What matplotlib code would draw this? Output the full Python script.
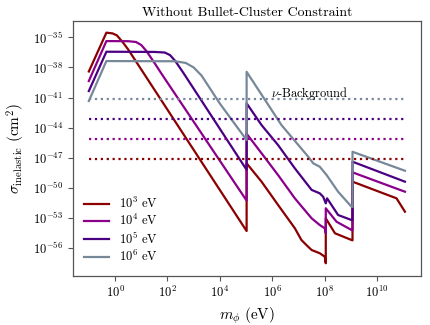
import numpy as np
import matplotlib
matplotlib.use("Agg")
import matplotlib.pyplot as plt

plt.rcParams['font.family'] = ['cmr10', 'DejaVu Serif']
plt.rcParams['mathtext.fontset'] = 'cm'
plt.rcParams['axes.formatter.use_mathtext'] = True

# ---- data (log10 values) ----
labels = [r"$10^3$ eV", r"$10^4$ eV", r"$10^5$ eV", r"$10^6$ eV"]
colors = ["#8b0000", "#8b008b", "#4b0082", "#778899"]

red_logm = [-1, -0.33, -0.1, 0.07, 0.3, 0.5, 0.8, 5.02,
            5.02, 5.59, 6.22, 6.86, 7.11, 7.3, 7.5, 7.81, 8.0, 8.04,
            8.04, 8.39, 9.02, 9.06,
            9.06, 10.74, 11.06]
red_logs = [-38.4, -34.53, -34.6, -34.8, -35.5, -36.2, -37.4, -54.3,
            -47.55, -49.38, -51.7, -54.02, -55.19, -55.69, -56.19, -56.51, -56.85, -57.51,
            -53.03, -54.52, -55.19, -55.22,
            -49.38, -51.04, -52.37]

purple_logm = [-1, -0.33, 0.5, 0.8, 1.0, 1.2, 1.5, 1.8, 5.02,
               5.02, 5.59, 6.22, 6.86, 7.5, 7.81, 8.0, 8.04,
               8.04, 8.45, 9.02, 9.06,
               9.06, 11.06]
purple_logs = [-39.35, -35.37, -35.38, -35.46, -35.76, -36.37, -37.53, -38.73, -51.27,
               -44.6, -46.55, -48.72, -51.04, -53.03, -53.7, -54.02, -54.52,
               -52.03, -53.37, -54.19, -54.22,
               -48.45, -50.38]

indigo_logm = [-1, -0.33, 1.5, 1.9, 2.1, 2.3, 2.6, 3.0, 5.02,
               5.02, 5.59, 6.22, 6.86, 7.5, 7.81, 7.94, 8.04, 8.09, 8.51, 9.02, 9.06,
               9.06, 11.06]
indigo_logs = [-40.35, -36.43, -36.45, -36.51, -36.77, -37.36, -38.51, -40.11, -48.2,
               -41.57, -43.74, -45.73, -48.05, -50.2, -50.54, -50.88, -51.54, -51.04, -52.7, -53.2, -53.22,
               -47.39, -49.38]

gray_logm = [-1, -0.33, 2.3, 2.7, 3.0, 3.3, 3.6, 4.0, 5.02,
             5.02, 6.35, 7.37, 7.56, 7.81, 8.07, 8.51, 9.02, 9.06,
             9.06, 11.06]
gray_logs = [-41.34, -37.36, -37.38, -37.55, -38.0, -38.8, -40.0, -41.6, -45.23,
             -38.43, -43.74, -46.89, -47.55, -47.89, -48.71, -50.38, -51.87, -51.9,
             -46.4, -48.29]

bg_levels = [-47.15, -45.15, -43.15, -41.15]   # dotted neutrino-background lines
bg_range = [-1, 11.06]

xticks_exp = [0, 2, 4, 6, 8, 10]
yticks_exp = [-56, -53, -50, -47, -44, -41, -38, -35]

# ---- figure ----
fig = plt.figure(figsize=(4.31, 3.25), dpi=100)
ax = fig.add_axes([0.169, 0.152, 0.807, 0.783])

series = [(red_logm, red_logs), (purple_logm, purple_logs),
          (indigo_logm, indigo_logs), (gray_logm, gray_logs)]
for (lm, ls), c, lab in zip(series, colors, labels):
    ax.plot(10.0 ** np.array(lm), 10.0 ** np.array(ls), color=c, lw=1.6, label=lab)

for lev, c in zip(bg_levels, colors):
    ax.plot(10.0 ** np.array(bg_range), [10.0 ** lev] * 2, color=c, lw=1.6, ls=':')

ax.set_xscale('log')
ax.set_yscale('log')
ax.set_xlim(10 ** -1.61, 10 ** 11.66)
ax.set_ylim(10 ** -58.74, 10 ** -33.38)

ax.set_xticks([10.0 ** e for e in xticks_exp])
ax.set_xticklabels([r"$10^{%d}$" % e for e in xticks_exp])
ax.set_yticks([10.0 ** e for e in yticks_exp])
ax.set_yticklabels([r"$10^{%d}$" % e for e in yticks_exp])
ax.minorticks_off()
ax.tick_params(axis='both', which='major', labelsize=9, length=3.5, width=0.8,
               color='#555555', direction='out', top=False, right=False)
for sp in ax.spines.values():
    sp.set_color('#555555')
    sp.set_linewidth(0.9)

ax.set_xlabel(r"$m_\phi\ ({\rm eV})$", fontsize=11)
ax.set_ylabel(r"$\sigma_{\rm inelastic}\ ({\rm cm}^2)$", fontsize=11)
ax.set_title("Without Bullet-Cluster Constraint", fontsize=10, pad=4)

ax.text(10 ** 7.41, 10 ** -40.55, r"$\nu$-Background", fontsize=9,
        ha='center', va='center')

ax.legend(loc='lower left', frameon=False, fontsize=9, handlelength=2.0,
          labelspacing=0.2)

fig.savefig("out.png", dpi=100)
